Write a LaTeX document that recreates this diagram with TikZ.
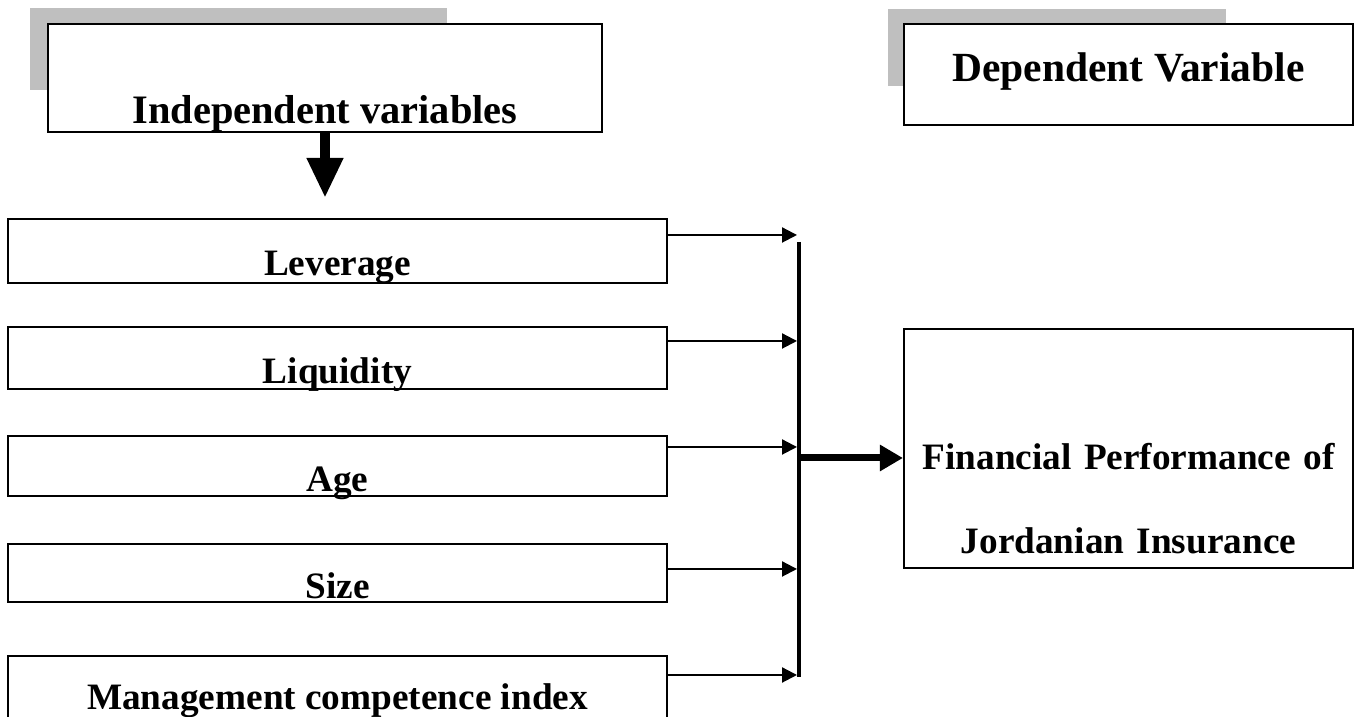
\documentclass[tikz,border=0pt]{standalone}
\usepackage{fontspec}
\setmainfont{Liberation Serif}
\usetikzlibrary{arrows.meta}

\begin{document}
\begin{tikzpicture}
    \clip (0,0) rectangle (13.6,7.17);
    \fill[white] (0,0) rectangle (13.6,7.17);

    % grey shadows behind the two headings
    \fill[black!25] (0.30,6.27) rectangle (4.47,7.09);
    \fill[black!25] (8.88,6.31) rectangle (12.26,7.08);

    \begin{scope}[every node/.style={draw,line width=0.6pt,fill=white,inner sep=0pt,
                  font=\fontsize{10.6}{12}\selectfont\bfseries}]
        \node[anchor=south,minimum width=5.54cm,text height=1.00cm,text depth=0.08cm,
              font=\fontsize{11.5}{14}\selectfont\bfseries] (IV) at (3.25,5.84) {Independent variables};
        \node[anchor=south,minimum width=4.49cm,text height=0.58cm,text depth=0.43cm,
              font=\fontsize{11.8}{14}\selectfont\bfseries] (DV) at (11.285,5.91) {Dependent Variable};

        \node[anchor=south,minimum width=6.59cm,text height=0.57cm,text depth=0.07cm] (lev) at (3.375,4.33) {Leverage};
        \node[anchor=south,minimum width=6.59cm,text height=0.57cm,text depth=0.05cm] (liq) at (3.375,3.27) {Liquidity};
        \node[anchor=south,minimum width=6.59cm,text height=0.56cm,text depth=0.04cm] (age) at (3.375,2.20) {Age};
        \node[anchor=south,minimum width=6.59cm,text height=0.55cm,text depth=0.03cm] (size) at (3.375,1.14) {Size};
        \node[anchor=north,minimum width=6.59cm,text height=0.53cm,text depth=0.90cm] (mci) at (3.375,0.62) {Management competence index};

        \node[anchor=north,text width=4.49cm,align=center,text height=1.40cm,text depth=0.99cm,
              font=\fontsize{10.6}{23.9}\selectfont\bfseries] (fin) at (11.285,3.89)
              {Financial Performance of\\Jordanian Insurance};
    \end{scope}

    \coordinate (t1) at (7.97,4.82);
    \coordinate (t2) at (7.97,3.76);
    \coordinate (t3) at (7.97,2.70);
    \coordinate (t4) at (7.97,1.48);
    \coordinate (t5) at (7.97,0.42);
    \coordinate (bt) at (7.99,4.75);
    \coordinate (bb) at (7.99,0.40);
    \coordinate (jn) at (7.99,2.59);
    \coordinate (dn) at (3.25,5.19);

    \begin{scope}[every edge/.style={draw,line width=0.6pt,-{Triangle[length=1.5mm,width=1.5mm]}}]
        \path (lev.east |- t1) edge (t1);
        \path (liq.east |- t2) edge (t2);
        \path (age.east |- t3) edge (t3);
        \path (size.east |- t4) edge (t4);
        \path (mci.east |- t5) edge (t5);
    \end{scope}

    \draw[line width=1.4pt] (bt) -- (bb);
    \draw[line width=2pt,-{Triangle[length=2.3mm,width=2.5mm]}] (jn) -- (fin.west |- jn);
    \draw[line width=2.85pt,-{Triangle[length=4mm,width=3.4mm]}] (IV.south) -- (dn);
\end{tikzpicture}
\end{document}
